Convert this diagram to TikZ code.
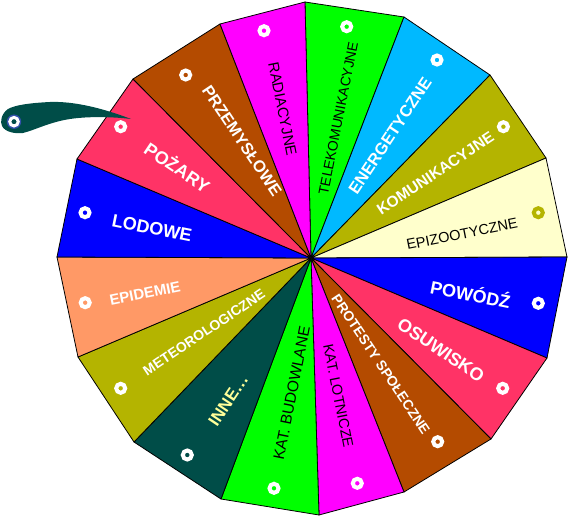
\documentclass[tikz,border=0pt]{standalone}
\usepackage{fontspec}
\setmainfont{Liberation Sans}
\definecolor{cgreen}{RGB}{0,255,0}
\definecolor{cblue}{RGB}{0,0,255}
\definecolor{csky}{RGB}{0,185,255}
\definecolor{colive}{RGB}{180,180,0}
\definecolor{ccream}{RGB}{255,255,204}
\definecolor{cpink}{RGB}{255,51,102}
\definecolor{cbrown}{RGB}{180,75,0}
\definecolor{cmag}{RGB}{255,0,255}
\definecolor{cteal}{RGB}{0,77,72}
\definecolor{csalmon}{RGB}{255,153,102}
\definecolor{cpale}{RGB}{255,255,153}
\definecolor{cringblue}{RGB}{50,80,170}
\tikzset{
  sector/.style={draw=black, line width=0.8pt, line join=round},
  ring/.style={circle, draw=white, line width=4pt, minimum size=9pt, inner sep=0pt},
  wb/.style={text=white, inner sep=0pt, font=\bfseries\fontsize{#1}{#1}\selectfont},
  kr/.style={text=black, inner sep=0pt, font=\fontsize{#1}{#1}\selectfont},
  pointer/.style={fill=cteal},
}
\begin{document}
\begin{tikzpicture}[x=1pt,y=-1pt]
\useasboundingbox (0,0) rectangle (568,516);
% vertices
\coordinate (c) at (311,258);
\coordinate (v1) at (305,2);
\coordinate (v2) at (404,17);
\coordinate (v3) at (490,75);
\coordinate (v4) at (546,158);
\coordinate (v5) at (567,257);
\coordinate (v6) at (547,358);
\coordinate (v7) at (491,439);
\coordinate (v8) at (404,492);
\coordinate (v9) at (319,515);
\coordinate (v10) at (221,499);
\coordinate (v11) at (134,442);
\coordinate (v12) at (78,357);
\coordinate (v13) at (57,257);
\coordinate (v14) at (77,159);
\coordinate (v15) at (133,79);
\coordinate (v16) at (220,24);
% sectors
\filldraw[sector, fill=cgreen]  (c) -- (v1) -- (v2) -- cycle;
\filldraw[sector, fill=csky]    (c) -- (v2) -- (v3) -- cycle;
\filldraw[sector, fill=colive]  (c) -- (v3) -- (v4) -- cycle;
\filldraw[sector, fill=ccream]  (c) -- (v4) -- (v5) -- cycle;
\filldraw[sector, fill=cblue]   (c) -- (v5) -- (v6) -- cycle;
\filldraw[sector, fill=cpink]   (c) -- (v6) -- (v7) -- cycle;
\filldraw[sector, fill=cbrown]  (c) -- (v7) -- (v8) -- cycle;
\filldraw[sector, fill=cmag]    (c) -- (v8) -- (v9) -- cycle;
\filldraw[sector, fill=cgreen]  (c) -- (v9) -- (v10) -- cycle;
\filldraw[sector, fill=cteal]   (c) -- (v10) -- (v11) -- cycle;
\filldraw[sector, fill=colive]  (c) -- (v11) -- (v12) -- cycle;
\filldraw[sector, fill=csalmon] (c) -- (v12) -- (v13) -- cycle;
\filldraw[sector, fill=cblue]   (c) -- (v13) -- (v14) -- cycle;
\filldraw[sector, fill=cpink]   (c) -- (v14) -- (v15) -- cycle;
\filldraw[sector, fill=cbrown]  (c) -- (v15) -- (v16) -- cycle;
\filldraw[sector, fill=cmag]    (c) -- (v16) -- (v1) -- cycle;
% rings
\node[ring] (d1) at (346.7,26.7) {};
\node[ring] (d2) at (437,60) {};
\node[ring] (d3) at (503.4,126.7) {};
\node[ring, draw=colive] (d4) at (538.3,212.7) {};
\node[ring] (d5) at (538.3,303.3) {};
\node[ring] (d6) at (502.7,388.3) {};
\node[ring] (d7) at (437.7,441.7) {};
\node[ring] (d8) at (357.3,483.3) {};
\node[ring] (d9) at (274,488.3) {};
\node[ring] (d10) at (187.3,455) {};
\node[ring] (d11) at (120.7,388.3) {};
\node[ring] (d12) at (85.2,302.7) {};
\node[ring] (d13) at (85,212.7) {};
\node[ring] (d14) at (120.7,126.7) {};
\node[ring] (d15) at (185.7,75) {};
\node[ring] (d16) at (264,30.7) {};
% labels
\node[kr=14, rotate=78.75] (t1) at (338.3,118.3) {TELEKOMUNIKACYJNE};
\node[wb=16.5, rotate=56.25] (t2) at (390,135.8) {ENERGETYCZNE};
\node[wb=15.5, rotate=33.75] (t3) at (435.3,173.3) {KOMUNIKACYJNE};
\node[kr=14.5, rotate=11.25] (t4) at (462,234) {EPIZOOTYCZNE};
\node[wb=18, rotate=-11.25] (t5) at (470.7,293.3) {POWÓDŹ};
\node[wb=18, rotate=-33.75] (t6) at (441,350) {OSUWISKO};
\node[wb=14, rotate=-56.25] (t7) at (380.8,364.2) {PROTESTY SPOŁECZNE};
\node[kr=14.5, rotate=-78.75] (t8) at (338.3,395.8) {KAT. LOTNICZE};
\node[kr=15.5, rotate=78.75] (t9) at (291.7,393.3) {KAT. BUDOWLANE};
\node[wb=17, rotate=56.25, text=cpale] (t10) at (228.3,400) {INNE…};
\node[wb=14, rotate=33.75] (t11) at (204,332.5) {METEOROLOGICZNE};
\node[wb=15, rotate=11.25] (t12) at (145,293.3) {EPIDEMIE};
\node[wb=18, rotate=-11.25] (t13) at (152,228) {LODOWE};
\node[wb=18, rotate=-33.75] (t14) at (177.7,166.7) {POŻARY};
\node[wb=16.5, rotate=-56.25] (t15) at (242,140.8) {PRZEMYSŁOWE};
\node[kr=15, rotate=-78.75] (t16) at (282.5,109) {RADIACYJNE};
% pointer
\coordinate (tip) at (131,119);
\fill[pointer] (tip) .. controls (105,109) and (75,101) .. (50,102)
  .. controls (30,103) and (15,105) .. (8,109)
  .. controls (1,114) and (0,122) .. (2,126)
  .. controls (5,132) and (15,134) .. (23,133)
  .. controls (35,130) and (50,122) .. (70,119)
  .. controls (90,116) and (115,117) .. (tip);
\fill[cringblue] (14,121.7) circle (7.2);
\node[circle, draw=white, line width=3pt, minimum size=8.5pt, inner sep=0pt, fill=cteal] (pd) at (14,121.7) {};
\end{tikzpicture}
\end{document}
